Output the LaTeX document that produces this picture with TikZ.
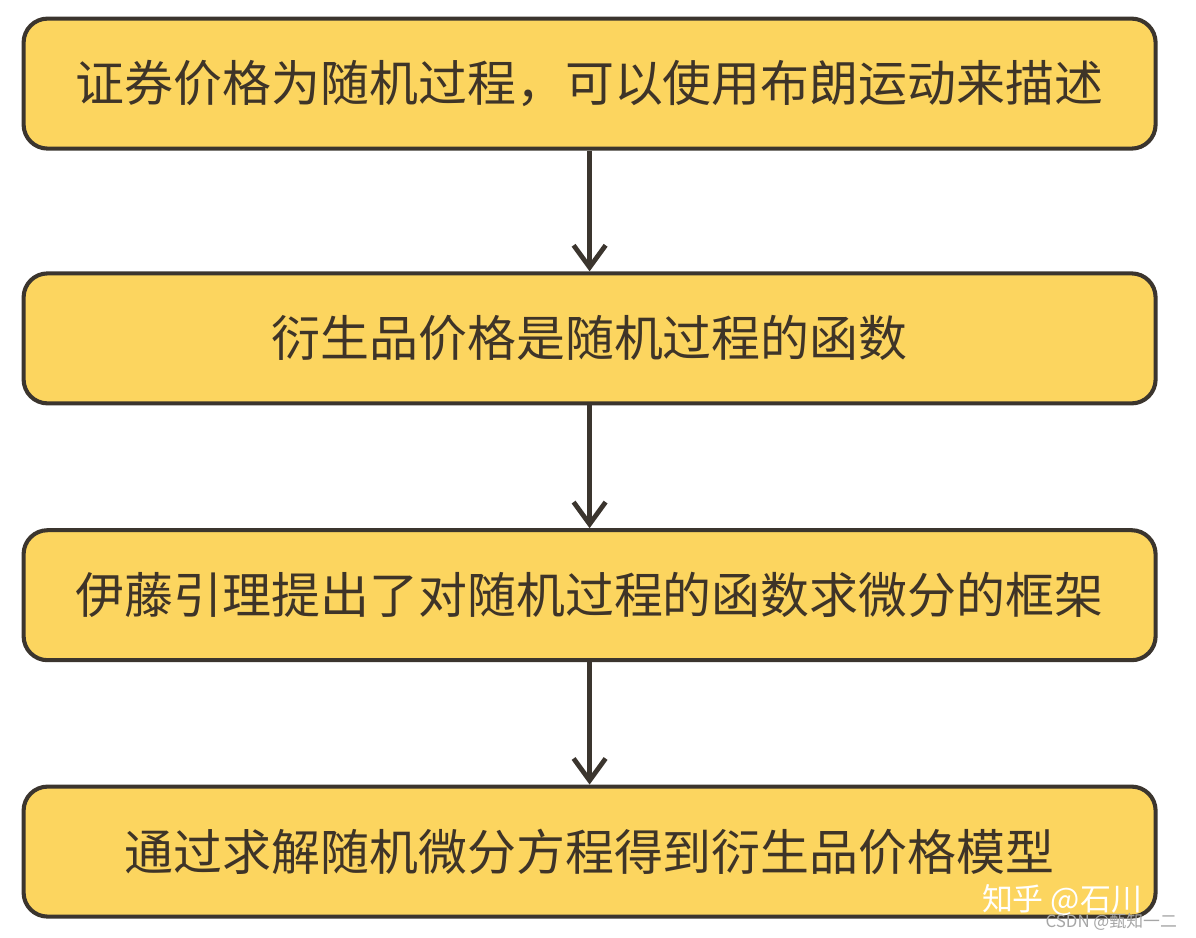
\documentclass[tikz,border=0pt]{standalone}
\usepackage{fontspec}
\setmainfont{Noto Sans CJK SC}
\usetikzlibrary{arrows.meta, positioning}
\definecolor{stepyellow}{RGB}{252, 213, 95}
\definecolor{stepedge}{RGB}{59, 53, 46}
\definecolor{steptext}{RGB}{62, 52, 40}

\begin{document}
\begin{tikzpicture}[
      stepbox/.style={rectangle, draw=stepedge, line width=2.9pt, fill=stepyellow, rounded corners=0.6cm, minimum width=28.3cm, minimum height=3.25cm, font=\fontsize{34.8}{40}\selectfont, text=steptext, align=center},
      arr/.style={-{Straight Barb[length=0.55cm, width=0.8cm]}, line width=3.4pt, stepedge}
    ]
      \useasboundingbox (0, 0) rectangle (29.9, -23.45);
      \node[stepbox] (P) at (14.74, -2.09) {证券价格为随机过程，可以使用布朗运动来描述};
      \node[stepbox] (F) at (14.74, -8.46) {衍生品价格是随机过程的函数};
      \node[stepbox] (I) at (14.74, -14.88) {伊藤引理提出了对随机过程的函数求微分的框架};
      \node[stepbox] (S) at (14.74, -21.29) {通过求解随机微分方程得到衍生品价格模型};

      \draw[arr] (P) -- (F);
      \draw[arr] (F) -- (I);
      \draw[arr] (I) -- (S);

      % watermarks
      \node[font=\fontsize{22}{26}\selectfont, text=white, inner sep=0pt] (W) at (26.55, -22.5) {知乎 @石川};
      \node[font=\fontsize{12}{14}\selectfont, text=gray!70, inner sep=0pt] (C) at (27.78, -23.05) {CSDN @甄知一二};
    \end{tikzpicture}
\end{document}
